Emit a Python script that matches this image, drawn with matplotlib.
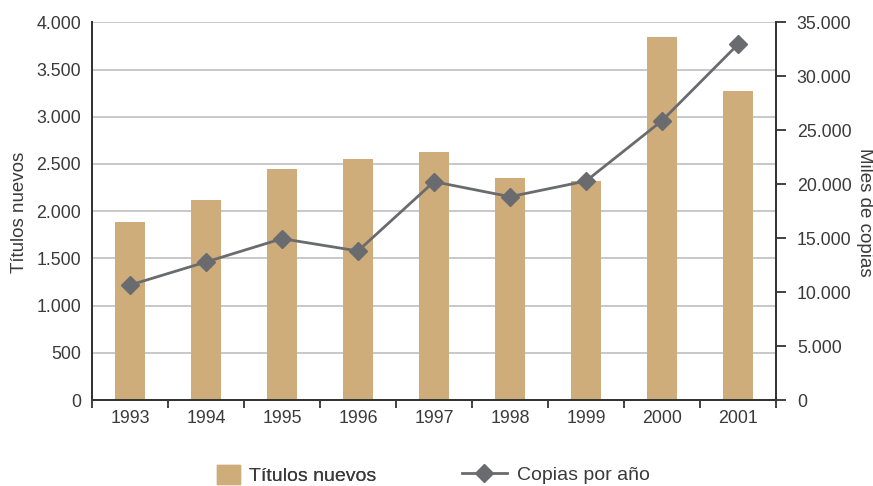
import matplotlib
matplotlib.use("Agg")
import matplotlib.pyplot as plt
from matplotlib.ticker import FuncFormatter, FixedLocator
from matplotlib.patches import Patch
from matplotlib.lines import Line2D

years = ["1993", "1994", "1995", "1996", "1997", "1998", "1999", "2000", "2001"]
titulos_nuevos = [1885, 2118, 2446, 2552, 2626, 2351, 2319, 3844, 3272]
copias_por_ano = [10650, 12790, 14950, 13810, 20230, 18840, 20290, 25880, 32960]
left_ticks = [0, 500, 1000, 1500, 2000, 2500, 3000, 3500, 4000]
right_ticks = [0, 5000, 10000, 15000, 20000, 25000, 30000, 35000]

plt.rcParams['font.family'] = ['Liberation Sans', 'DejaVu Sans']
TXT = '#3a3a3a'
BAR = '#cfad7b'
LINE = '#6a6b6f'
GRID = '#c4c4c4'
SPINE = '#333333'
FS = 12.8
FS_LAB = 13.5
FS_LEG = 14

def fmt(v, pos=None):
    return f"{int(v):,}".replace(",", ".")

fig = plt.figure(figsize=(8.73, 4.86), dpi=100)
ax = fig.add_axes([92/873, 1-400/486, (776-92)/873, (400-22.3)/486])
ax2 = ax.twinx()

x = list(range(len(years)))
ax.bar(x, titulos_nuevos, width=0.4, color=BAR, zorder=2)
ax.set_xlim(-0.5, len(years) - 0.5)
ax.set_ylim(0, 4000)
ax.yaxis.set_major_locator(FixedLocator(left_ticks))
ax.yaxis.set_major_formatter(FuncFormatter(fmt))
ax.grid(axis='y', color=GRID, linewidth=1.3, zorder=0)
ax.set_axisbelow(True)

ax.set_xticks(x)
ax.set_xticklabels(years)
ax.set_xticks([i - 0.5 for i in range(len(years) + 1)], minor=True)
ax.tick_params(axis='x', which='major', length=0, pad=7, labelsize=FS, labelcolor=TXT)
ax.tick_params(axis='x', which='minor', length=6, width=1.3, color=SPINE, direction='out')
ax.tick_params(axis='y', length=0, pad=8, labelsize=FS, labelcolor=TXT)

ax2.plot(x, copias_por_ano, color=LINE, linewidth=2, marker='D', markersize=9,
         markeredgecolor=LINE, markerfacecolor=LINE, zorder=3)
ax2.set_ylim(0, 35000)
ax2.yaxis.set_major_locator(FixedLocator(right_ticks))
ax2.yaxis.set_major_formatter(FuncFormatter(fmt))
ax2.tick_params(axis='y', length=7, width=1.3, color=SPINE, direction='out', pad=8,
                labelsize=FS, labelcolor=TXT)

for a in (ax, ax2):
    a.spines['top'].set_visible(False)
    for s in ('left', 'right', 'bottom'):
        a.spines[s].set_color(SPINE)
        a.spines[s].set_linewidth(1.3)

fig.text(20/873, 1-212/486, "Títulos nuevos", rotation=90, ha='center', va='center',
         fontsize=FS_LAB, color=TXT)
fig.text(865/873, 1-212/486, "Miles de copias", rotation=270, ha='center', va='center',
         fontsize=FS_LAB, color=TXT)

leg1 = fig.legend(handles=[Patch(color=BAR)], labels=["Títulos nuevos"],
                  loc='center left', bbox_to_anchor=(217/873, 1-475/486),
                  frameon=False, fontsize=FS_LEG, handlelength=1.2, handleheight=1.15,
                  borderpad=0, borderaxespad=0, handletextpad=0.45, labelcolor=TXT)
leg2 = fig.legend(handles=[Line2D([0], [0], color=LINE, linewidth=2, marker='D',
                                  markersize=9, markerfacecolor=LINE, markeredgecolor=LINE)],
                  labels=["Copias por año"],
                  loc='center left', bbox_to_anchor=(462/873, 1-475/486),
                  frameon=False, fontsize=FS_LEG, handlelength=2.3,
                  borderpad=0, borderaxespad=0, handletextpad=0.55, labelcolor=TXT)
fig.add_artist(leg1)

fig.savefig("out.png", dpi=100)
